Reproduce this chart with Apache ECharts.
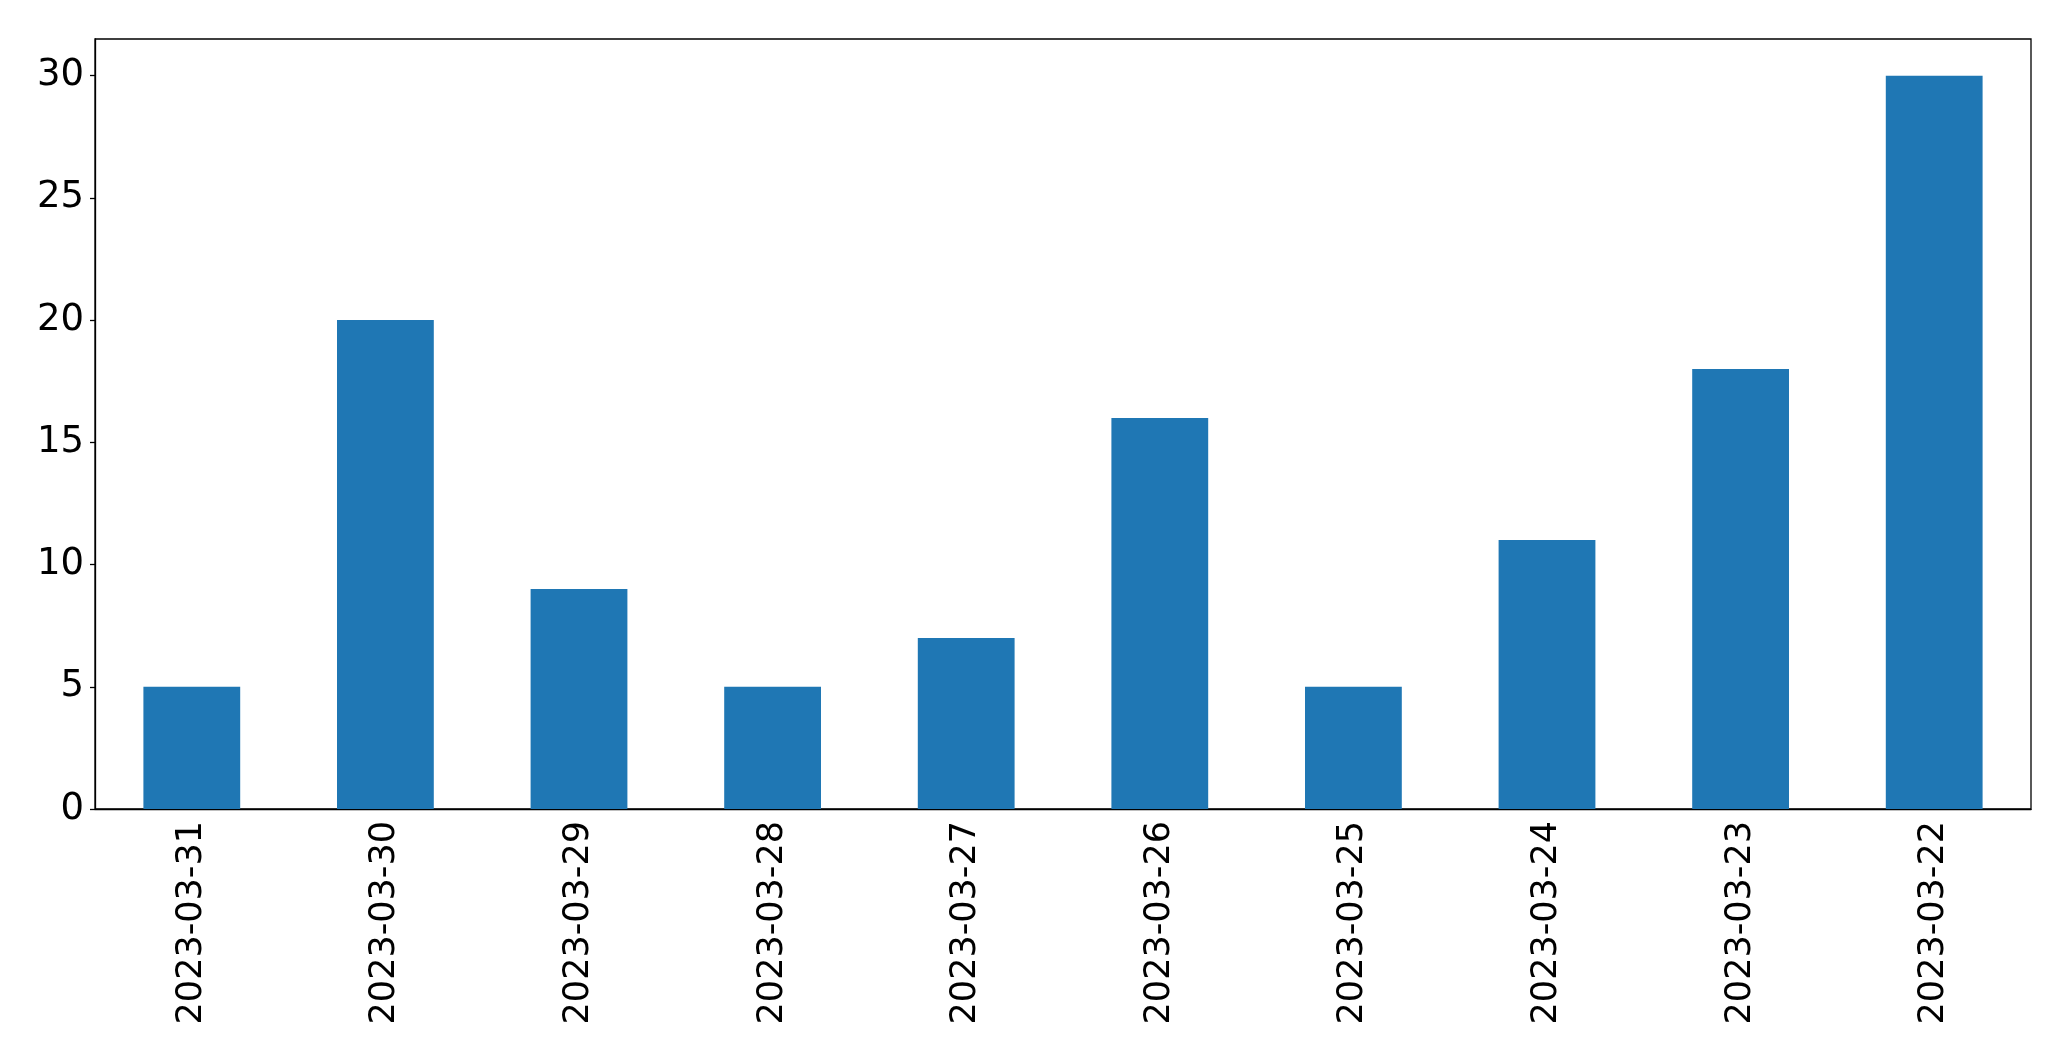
<!DOCTYPE html>
<html>
<head>
<meta charset="utf-8">
<script src="https://cdn.jsdelivr.net/npm/echarts@6/dist/echarts.min.js"></script>
<style>
  html, body { margin: 0; padding: 0; background: #fff; }
  #chart { width: 2071px; height: 1061px; }
</style>
</head>
<body>
<div id="chart"></div>
<script>
// dates as they appear on the x axis (newest first)
const dates = ['2023-03-31', '2023-03-30', '2023-03-29', '2023-03-28', '2023-03-27',
  '2023-03-26', '2023-03-25', '2023-03-24', '2023-03-23', '2023-03-22'];
const counts = [5, 20, 9, 5, 7, 16, 5, 11, 18, 30];
const yTicks = [0, 5, 10, 15, 20, 25, 30];

const chart = echarts.init(document.getElementById('chart'));
const font = 'DejaVu Sans';

chart.setOption({
  animation: false,
  grid: {
    left: 95, right: 40, top: 39, bottom: 252,
    show: true, borderColor: '#000', borderWidth: 1.3, backgroundColor: 'transparent'
  },
  xAxis: {
    type: 'category',
    data: dates,
    boundaryGap: true,
    axisLine: { lineStyle: { color: '#000', width: 1.3 } },
    axisTick: { alignWithLabel: true, length: 5, lineStyle: { color: '#000', width: 1.3 } },
    axisLabel: { rotate: 90, margin: 12, color: '#000', fontFamily: font, fontSize: 35, interval: 0 }
  },
  yAxis: {
    type: 'value',
    min: 0, max: 31.5,
    splitLine: { show: false },
    axisLine: { show: true, lineStyle: { color: '#000', width: 1.3 } },
    axisTick: { show: true, length: 5, customValues: yTicks, lineStyle: { color: '#000', width: 1.3 } },
    axisLabel: {
      margin: 11, color: '#000', fontFamily: font, fontSize: 37,
      customValues: yTicks
    }
  },
  series: [{
    type: 'bar',
    data: counts,
    barWidth: '50%',
    itemStyle: { color: '#1f77b4' }
  }]
});
</script>
</body>
</html>
